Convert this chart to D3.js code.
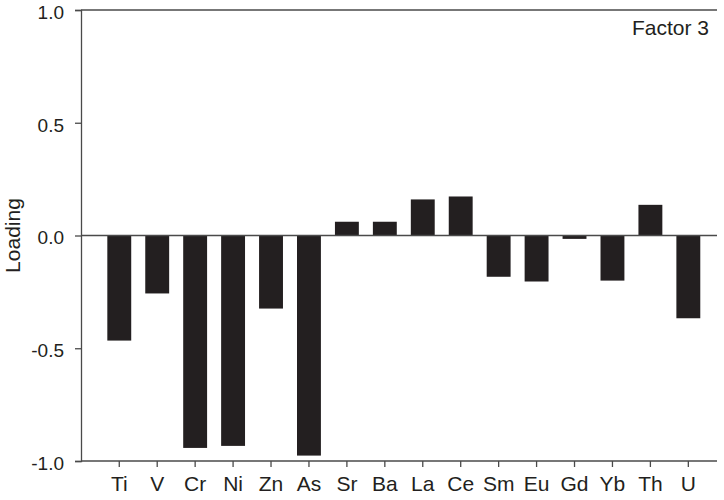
<!DOCTYPE html>
<html>
<head>
<meta charset="utf-8">
<script src="https://cdn.jsdelivr.net/npm/d3@7/dist/d3.min.js"></script>
<style>
  body { margin: 0; background: #fff; }
  svg text { font-family: "Liberation Sans", Arial, Helvetica, sans-serif; fill: #231f20; }
</style>
</head>
<body>
<svg id="chart" width="724" height="500"></svg>
<script>
// Factor 3 loadings per element
const elements = ["Ti", "V", "Cr", "Ni", "Zn", "As", "Sr", "Ba", "La", "Ce", "Sm", "Eu", "Gd", "Yb", "Th", "U"];
const loadings = [-0.466, -0.257, -0.942, -0.933, -0.324, -0.976, 0.061, 0.061, 0.160, 0.173, -0.183, -0.204, -0.015, -0.200, 0.136, -0.367];
const yTicks = [-1.0, -0.5, 0.0, 0.5, 1.0];
const panelLabel = "Factor 3";
const yTitle = "Loading";

const svg = d3.select("#chart");
const frame = { left: 81, right: 717, top: 10, bottom: 461 };
const ink = "#231f20";
const lineColor = "#4a4a4a";

const y = d3.scaleLinear().domain([-1, 1]).range([frame.bottom, frame.top]);
const x = d3.scaleBand().domain(elements).range([100.3, 707.3]).paddingInner(0.37).paddingOuter(0.185);

const data = elements.map((e, i) => ({ el: e, v: loadings[i] }));

// bars
svg.append("g").selectAll("rect").data(data).join("rect")
  .attr("x", d => x(d.el))
  .attr("width", x.bandwidth())
  .attr("y", d => y(Math.max(0, d.v)))
  .attr("height", d => Math.abs(y(d.v) - y(0)))
  .attr("fill", ink);

// zero line
svg.append("line")
  .attr("x1", frame.left).attr("x2", frame.right)
  .attr("y1", y(0)).attr("y2", y(0))
  .attr("stroke", lineColor).attr("stroke-width", 1.3);

// top border
svg.append("line")
  .attr("x1", frame.left).attr("x2", frame.right)
  .attr("y1", frame.top).attr("y2", frame.top)
  .attr("stroke", lineColor).attr("stroke-width", 1.3);

// left axis
const yAxis = d3.axisLeft(y).tickValues(yTicks).tickSize(6).tickPadding(11);
const gy = svg.append("g").attr("transform", `translate(${frame.left},0)`).call(yAxis);
gy.select(".domain").attr("stroke", lineColor).attr("stroke-width", 1.3);
gy.selectAll(".tick line").attr("stroke", lineColor).attr("stroke-width", 1.3);
gy.selectAll(".tick text").attr("font-size", 19).attr("fill", ink).attr("dy", "0.44em")
  .text(d => d < 0 ? "-" + Math.abs(d).toFixed(1) : d.toFixed(1));

// bottom axis
const xAxis = d3.axisBottom(x).tickSize(6).tickPadding(9.5).tickSizeOuter(0);
const gx = svg.append("g").attr("transform", `translate(0,${frame.bottom})`).call(xAxis);
gx.select(".domain").remove();
gx.append("line").attr("x1", frame.left).attr("x2", frame.right)
  .attr("stroke", lineColor).attr("stroke-width", 1.3);
gx.selectAll(".tick line").attr("stroke", lineColor).attr("stroke-width", 1.3);
gx.selectAll(".tick text").attr("font-size", 21).attr("fill", ink);

// axis title
svg.append("text")
  .attr("transform", `translate(20,${y(0)}) rotate(-90)`)
  .attr("text-anchor", "middle")
  .attr("font-size", 21)
  .text(yTitle);

// panel label
svg.append("text")
  .attr("x", 709).attr("y", 34.5)
  .attr("text-anchor", "end")
  .attr("font-size", 21)
  .text(panelLabel);
</script>
</body>
</html>
